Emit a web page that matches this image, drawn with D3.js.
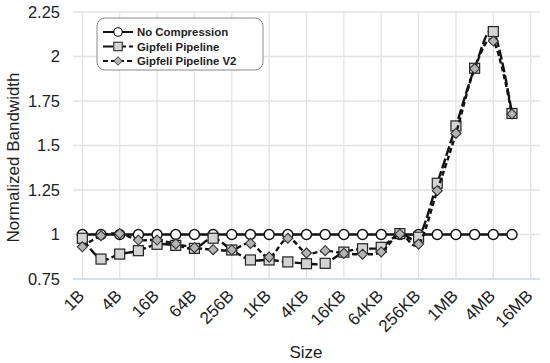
<!DOCTYPE html>
<html>
<head>
<meta charset="utf-8">
<script src="https://cdn.jsdelivr.net/npm/d3@7"></script>
<style>
  body { margin: 0; background: #fff; }
  text { font-family: 'Liberation Sans', Arial, sans-serif; }
</style>
</head>
<body>
<svg id="svg" width="550" height="363"></svg>
<script>
// size categories, 2^0 .. 2^24 bytes
const sizes = ['1B','2B','4B','8B','16B','32B','64B','128B','256B','512B',
  '1KB','2KB','4KB','8KB','16KB','32KB','64KB','128KB','256KB','512KB',
  '1MB','2MB','4MB','8MB','16MB'];

const noCompression = [1,1,1,1,1,1,1,1,1,1,1,1,1,1,1,1,1,1,1,1,1,1,1,1];
const gipfeli = [0.979, 0.862, 0.890, 0.909, 0.945, 0.939, 0.922, 0.979, 0.913, 0.857, 0.857, 0.846,
  0.836, 0.838, 0.901, 0.920, 0.928, 1.005, 0.985, 1.288, 1.610, 1.934, 2.140, 1.680];
const gipfeliV2 = [0.931, 0.993, 1.005, 0.969, 0.969, 0.947, 0.926, 0.915, 0.913, 0.950, 0.873, 0.979,
  0.896, 0.909, 0.894, 0.889, 0.902, 1.002, 0.946, 1.246, 1.568, 1.932, 2.087, 1.677];

const yTicks = [0.75, 1, 1.25, 1.5, 1.75, 2, 2.25];
const seriesNames = ['No Compression', 'Gipfeli Pipeline', 'Gipfeli Pipeline V2'];

const config = { left: 73, right: 540, top: 12, bottom: 279 };

const svg = d3.select('#svg');

const xScale = d3.scalePoint()
  .domain(sizes)
  .range([config.left, config.right])
  .padding(0.5);

const yScale = d3.scaleLinear()
  .domain([0.75, 2.25])
  .range([config.bottom, config.top]);

// grid
const grid = svg.append('g').attr('class', 'grid');
grid.selectAll('.hgrid')
  .data(yTicks.filter(d => d > 0.75))
  .join('line')
  .attr('x1', config.left).attr('x2', config.right)
  .attr('y1', d => yScale(d)).attr('y2', d => yScale(d))
  .attr('stroke', '#e3e3e3').attr('stroke-width', 1.3);

const labelled = sizes.filter((d, i) => i % 2 == 0);

grid.selectAll('.vgrid')
  .data(labelled)
  .join('line')
  .attr('x1', d => xScale(d)).attr('x2', d => xScale(d))
  .attr('y1', config.top).attr('y2', config.bottom)
  .attr('stroke', '#e3e3e3').attr('stroke-width', 1.3);

// x axis line
svg.append('line')
  .attr('x1', config.left).attr('x2', config.right)
  .attr('y1', yScale(0.75)).attr('y2', yScale(0.75))
  .attr('stroke', '#c8d4ee').attr('stroke-width', 1.3);

// y tick labels
svg.selectAll('.ytick')
  .data(yTicks)
  .join('text')
  .attr('x', 60)
  .attr('y', d => yScale(d))
  .attr('dy', '0.35em')
  .attr('text-anchor', 'end')
  .style('font-size', '16.5px')
  .attr('fill', '#222')
  .text(d => d);

// x tick labels
svg.selectAll('.xtick')
  .data(labelled)
  .join('text')
  .attr('text-anchor', 'end')
  .attr('transform', d => `translate(${xScale(d) + 3},${config.bottom + 18}) rotate(-45)`)
  .style('font-size', '17px')
  .attr('fill', '#222')
  .text(d => d);

// axis titles
svg.append('text')
  .attr('transform', `translate(19,${(config.top + config.bottom) / 2 + 12}) rotate(-90)`)
  .attr('text-anchor', 'middle')
  .style('font-size', '17px')
  .attr('fill', '#222')
  .text('Normalized Bandwidth');

svg.append('text')
  .attr('x', 306).attr('y', 358)
  .attr('text-anchor', 'middle')
  .style('font-size', '17px')
  .attr('fill', '#222')
  .text('Size');

// series
const smooth = d3.line()
  .x((d, i) => xScale(sizes[i]))
  .y(d => yScale(d))
  .curve(d3.curveCatmullRom.alpha(0));

const straight = d3.line()
  .x((d, i) => xScale(sizes[i]))
  .y(d => yScale(d));

const series = [
  { name: seriesNames[0], values: noCompression, line: straight, dash: null, marker: 'circle' },
  { name: seriesNames[1], values: gipfeli, line: smooth, dash: '10,3', marker: 'square' },
  { name: seriesNames[2], values: gipfeliV2, line: smooth, dash: '5,3', marker: 'diamond' }
];

function drawMarker(g, type) {
  if (type == 'circle') {
    g.append('circle').attr('r', 5).attr('fill', '#fff').attr('stroke', '#111').attr('stroke-width', 1.4);
  } else if (type == 'square') {
    g.append('rect').attr('x', -5).attr('y', -5).attr('width', 10).attr('height', 10)
      .attr('fill', '#d4d4d4').attr('stroke', '#222').attr('stroke-width', 1.2);
  } else {
    g.append('path').attr('d', 'M0,-5L5,0L0,5L-5,0Z')
      .attr('fill', '#b4b4b4').attr('stroke', '#333').attr('stroke-width', 1.1);
  }
}

series.forEach(s => {
  const g = svg.append('g');
  g.append('path')
    .datum(s.values)
    .attr('d', s.line)
    .attr('fill', 'none')
    .attr('stroke', '#111')
    .attr('stroke-width', 2.4)
    .attr('stroke-dasharray', s.dash);

  g.selectAll('.pt')
    .data(s.values)
    .join('g')
    .attr('transform', (d, i) => `translate(${xScale(sizes[i])},${yScale(d)})`)
    .each(function () { drawMarker(d3.select(this), s.marker); });
});

// legend
const legend = svg.append('g').attr('transform', 'translate(97,18)');
legend.append('rect')
  .attr('width', 166).attr('height', 52)
  .attr('rx', 8).attr('ry', 8)
  .attr('fill', '#fff').attr('stroke', '#8a8a8a').attr('stroke-width', 1);

series.forEach((s, i) => {
  const row = legend.append('g').attr('transform', `translate(0,${14 + i * 14.5})`);
  row.append('line')
    .attr('x1', 6).attr('x2', 36)
    .attr('stroke', '#111').attr('stroke-width', 2)
    .attr('stroke-dasharray', s.dash);
  const m = row.append('g').attr('transform', 'translate(21,0)');
  drawMarker(m, s.marker);
  m.selectAll('*').attr('transform', 'scale(0.85)');
  row.append('text')
    .attr('x', 40).attr('dy', '0.35em')
    .style('font-size', '11.4px').style('font-weight', 'bold')
    .attr('fill', '#222')
    .text(s.name);
});
</script>
</body>
</html>
